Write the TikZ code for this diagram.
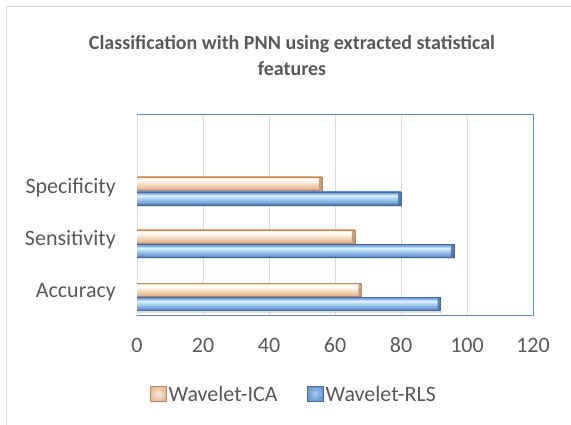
\documentclass[tikz,border=0pt]{standalone}
\usepackage{fontspec}
\setmainfont{Carlito}
\definecolor{txt}{HTML}{595959}
\definecolor{gridc}{HTML}{D9D9D9}
\definecolor{framec}{HTML}{5B8BD0}
\definecolor{outerc}{HTML}{D9D9D9}
\definecolor{rlsA}{HTML}{44659C}
\definecolor{rlsB}{HTML}{6F98D2}
\definecolor{rlsC}{HTML}{A4CAF0}
\definecolor{rlsD}{HTML}{DDF4FF}
\definecolor{rlsE}{HTML}{86AEE2}
\definecolor{rlsEdge}{HTML}{4469A0}
\definecolor{icaA}{HTML}{C99A76}
\definecolor{icaB}{HTML}{E6BB98}
\definecolor{icaC}{HTML}{F8DEC6}
\definecolor{icaD}{HTML}{FFFCF6}
\definecolor{icaE}{HTML}{F3CDA8}
\definecolor{icaEdge}{HTML}{B88C6A}
\definecolor{shadowc}{HTML}{C8C8C8}
\pgfdeclareverticalshading{rlsshade}{100bp}{color(0bp)=(rlsA); color(25bp)=(rlsA); color(32bp)=(rlsB); color(48bp)=(rlsC); color(62bp)=(rlsD); color(70bp)=(rlsE); color(75bp)=(rlsB); color(100bp)=(rlsB)}
\pgfdeclareverticalshading{icashade}{100bp}{color(0bp)=(icaA); color(25bp)=(icaA); color(32bp)=(icaB); color(48bp)=(icaC); color(62bp)=(icaD); color(70bp)=(icaD); color(75bp)=(icaE); color(100bp)=(icaE)}
\newcommand\mybar[4]{%
  \pgfmathsetmacro\xe{137+3.3*#2}
  \fill[shadowc,opacity=0.6] (138,#1+13) rectangle (\xe+1,#1+15);
  \shade[shading=#3] (137,#1) rectangle (\xe,#1+13);
  \fill[#4,opacity=0.8] (\xe-3,#1+1.5) -- (\xe,#1) -- (\xe,#1+13) -- (\xe-3,#1+11.5) -- cycle;
  \draw[#4,line width=0.5pt] (137,#1) -- (\xe,#1) -- (\xe,#1+13) -- (137,#1+13);
}
\begin{document}
\begin{tikzpicture}[x=1pt,y=-1pt,
  lbl/.style={text=txt,font=\fontsize{22}{26}\selectfont,inner sep=0pt},
  ttl/.style={text=txt,font=\fontsize{20}{26}\selectfont\bfseries,align=center,inner sep=0pt},
  gridline/.style={draw=gridc,line width=0.8pt}]
\useasboundingbox (0,0) rectangle (571,425);
\fill[white] (0,0) rectangle (571,425);
% outer chart frame
\draw[outerc,line width=1pt] (6.5,425) -- (6.5,6.5) -- (571,6.5);
% title
\node[ttl] (title) at (292,56) {Classification with PNN using extracted statistical\\features};
% grid
\foreach \v in {20,40,60,80,100} {
  \draw[gridline] ({137+3.3*\v},115) -- ({137+3.3*\v},315);
}
\draw[framec,line width=1pt] (137,115) rectangle (533,315);
\draw[gridc!80!black!40,line width=1pt] (137,115) -- (137,315);
% bars
\mybar{177}{56}{icashade}{icaEdge}
\mybar{192}{80}{rlsshade}{rlsEdge}
\mybar{230}{66}{icashade}{icaEdge}
\mybar{244.5}{96}{rlsshade}{rlsEdge}
\mybar{283.5}{68}{icashade}{icaEdge}
\mybar{297.5}{92}{rlsshade}{rlsEdge}
% category labels
\node[lbl,anchor=east] (spec) at (116,188) {Specificity};
\node[lbl,anchor=east] (sens) at (116,240) {Sensitivity};
\node[lbl,anchor=east] (acc) at (116,292) {Accuracy};
% tick labels
\foreach \v in {0,20,40,60,80,100,120} {
  \node[lbl] (t\v) at ({137+3.3*\v},345) {\v};
}
% legend
\shade[inner color=icaC!60!white,outer color=icaB] (150,386) rectangle (166,401);
\draw[icaEdge,line width=0.5pt] (150,386) rectangle (166,401);
\node[lbl,anchor=west] (lica) at (168.5,393.5) {Wavelet-ICA};
\shade[inner color=rlsC,outer color=rlsB] (307,386) rectangle (323,401);
\draw[rlsEdge,line width=0.5pt] (307,386) rectangle (323,401);
\node[lbl,anchor=west] (lrls) at (325.5,393.5) {Wavelet-RLS};
\end{tikzpicture}
\end{document}
